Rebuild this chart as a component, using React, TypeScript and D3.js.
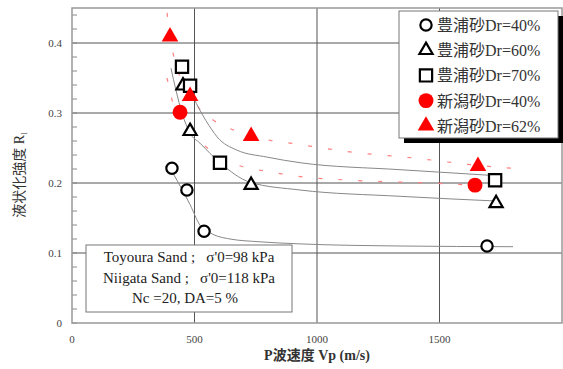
import React from "react";
import * as d3 from "d3";

// measured points (Vp m/s, Rl)
const toyoura40 = [[408, 0.221], [469, 0.19], [539, 0.131], [1694, 0.11]];
const toyoura60 = [[453, 0.339], [482, 0.274], [731, 0.197], [1731, 0.171]];
const toyoura70 = [[449, 0.366], [482, 0.339], [604, 0.229], [1727, 0.204]];
const niigata40 = [[441, 0.301], [1645, 0.197]];
const niigata62 = [[400, 0.409], [482, 0.324], [731, 0.267], [1657, 0.224]];

// fitted curves
const fit40 = [[412, 0.214], [482, 0.169], [522, 0.14], [563, 0.129], [645, 0.12], [767, 0.116], [931, 0.113], [1339, 0.11], [1800, 0.109]];
const fit60 = [[404, 0.364], [424, 0.333], [449, 0.3], [482, 0.271], [522, 0.257], [604, 0.229], [727, 0.201], [931, 0.19], [1339, 0.181], [1747, 0.174]];
const fit70 = [[494, 0.323], [522, 0.304], [571, 0.276], [592, 0.266], [673, 0.247], [796, 0.237], [931, 0.229], [1339, 0.219], [1706, 0.211]];
const niigataUpper = [[388, 0.443], [412, 0.386], [514, 0.309], [576, 0.29], [657, 0.276], [808, 0.261], [890, 0.257], [1143, 0.244], [1388, 0.236], [1633, 0.226], [1796, 0.221]];
const niigataLower = [[388, 0.35], [408, 0.319], [461, 0.283], [522, 0.259], [576, 0.244], [673, 0.226], [808, 0.216], [890, 0.211], [1135, 0.204], [1461, 0.2], [1788, 0.194]];

const xTicks = [0, 500, 1000, 1500];
const yTicks = [0, 0.1, 0.2, 0.3, 0.4];
const legendLabels = ["豊浦砂Dr=40%", "豊浦砂Dr=60%", "豊浦砂Dr=70%", "新潟砂Dr=40%", "新潟砂Dr=62%"];
const noteLines = ["Toyoura Sand ;   σ'0=98 kPa", "Niigata Sand ;   σ'0=118 kPa", "Nc =20, DA=5 %"];

const serif = "Liberation Serif, Times New Roman, DejaVu Serif, Noto Sans CJK JP, serif";

const App = () => {
  const width = 563;
  const height = 369;

  const xScale = d3.scaleLinear().domain([0, 2000]).range([72, 562]);
  const yScale = d3.scaleLinear().domain([0, 0.45]).range([323, 8]);

  const line = d3.line<number[]>().x(d => xScale(d[0])).y(d => yScale(d[1])).curve(d3.curveMonotoneX);

  const circle = d3.symbol().type(d3.symbolCircle).size(100)();
  const tri = d3.symbol().type(d3.symbolTriangle).size(75)();
  const square = d3.symbol().type(d3.symbolSquare).size(150)();
  const bigCircle = d3.symbol().type(d3.symbolCircle).size(175)();
  const bigTri = d3.symbol().type(d3.symbolTriangle).size(120)();

  const series = [
    {data: toyoura40, path: circle, fill: "white", stroke: "black"},
    {data: toyoura60, path: tri, fill: "white", stroke: "black"},
    {data: toyoura70, path: square, fill: "white", stroke: "black"},
    {data: niigata40, path: bigCircle, fill: "red", stroke: "none"},
    {data: niigata62, path: bigTri, fill: "red", stroke: "none"},
  ];

  const minor = d3.range(0, 0.45, 0.02);

  return (
    <svg width={width} height={height} style={{position: "absolute", left: 0, top: 0}}>
      <rect x={0} y={0} width={width} height={height} fill="white"/>

      {/* grid */}
      {xTicks.filter(t => t > 0).map(t => (
        <line key={"gx" + t} x1={xScale(t)} x2={xScale(t)} y1={yScale(0.45)} y2={yScale(0)} stroke="#555" strokeWidth={1}/>
      ))}
      {yTicks.filter(t => t > 0).map(t => (
        <line key={"gy" + t} x1={xScale(0)} x2={xScale(2000)} y1={yScale(t)} y2={yScale(t)} stroke="#555" strokeWidth={1}/>
      ))}
      {minor.map(t => (
        <line key={"m" + t} x1={xScale(0)} x2={xScale(0) + 5} y1={yScale(t)} y2={yScale(t)} stroke="#888"/>
      ))}
      <rect x={xScale(0)} y={yScale(0.45)} width={xScale(2000) - xScale(0)} height={yScale(0) - yScale(0.45)}
            fill="none" stroke="#999" strokeWidth={1.5}/>

      {/* fits */}
      <path d={line(niigataUpper) || ""} fill="none" stroke="#ff8080" strokeWidth={1.2} strokeDasharray="4 16"/>
      <path d={line(niigataLower) || ""} fill="none" stroke="#ff8080" strokeWidth={1.2} strokeDasharray="4 16"/>
      <path d={line(fit40) || ""} fill="none" stroke="#888" strokeWidth={1}/>
      <path d={line(fit60) || ""} fill="none" stroke="#888" strokeWidth={1}/>
      <path d={line(fit70) || ""} fill="none" stroke="#888" strokeWidth={1}/>

      {/* points */}
      {series.map((s, i) => s.data.map((d, j) => (
        <path key={i + "-" + j} d={s.path || ""} transform={`translate(${xScale(d[0])},${yScale(d[1])})`}
              fill={s.fill} stroke={s.stroke} strokeWidth={2.2}/>
      )))}

      {/* axis labels */}
      {xTicks.map(t => (
        <text key={"xl" + t} x={xScale(t)} y={343} textAnchor="middle" fontFamily={serif} fontSize={11} fill="#444">{t}</text>
      ))}
      {yTicks.map(t => (
        <text key={"yl" + t} x={62} y={yScale(t) + 4} textAnchor="end" fontFamily={serif} fontSize={11} fill="#444">{t === 0 ? "0" : t.toFixed(1)}</text>
      ))}
      <text x={317} y={360} textAnchor="middle" fontFamily={serif} fontSize={14} fontWeight="bold" fill="#333">P波速度 Vp (m/s)</text>
      <text transform="translate(24,175) rotate(-90)" textAnchor="middle" fontFamily={serif} fontSize={14} fill="#333">
        液状化強度 R<tspan fontSize={9} dy={3}>l</tspan>
      </text>

      {/* legend */}
      <rect x={404} y={16} width={159} height={127} fill="black"/>
      <rect x={399} y={11} width={159} height={127} fill="white" stroke="#777" strokeWidth={1}/>
      {legendLabels.map((label, i) => {
        const s = series[i];
        const y = 25 + i * 25.2;
        return (
          <g key={label}>
            <path d={s.path || ""} transform={`translate(426,${y})`} fill={s.fill} stroke={s.stroke} strokeWidth={2.2}/>
            <text x={437} y={y + 6} fontFamily={serif} fontSize={16} fill="#333">{label}</text>
          </g>
        );
      })}

      {/* note */}
      <rect x={86} y={245} width={206} height={67} fill="white" stroke="#777" strokeWidth={1}/>
      {noteLines.map((t, i) => (
        <text key={t} x={i === 2 ? 185 : 189} y={262 + i * 20.5} textAnchor="middle" fontFamily={serif} fontSize={15}
              fill="#222" style={{whiteSpace: "pre"}}>{t}</text>
      ))}
    </svg>
  );
};

export default App;
